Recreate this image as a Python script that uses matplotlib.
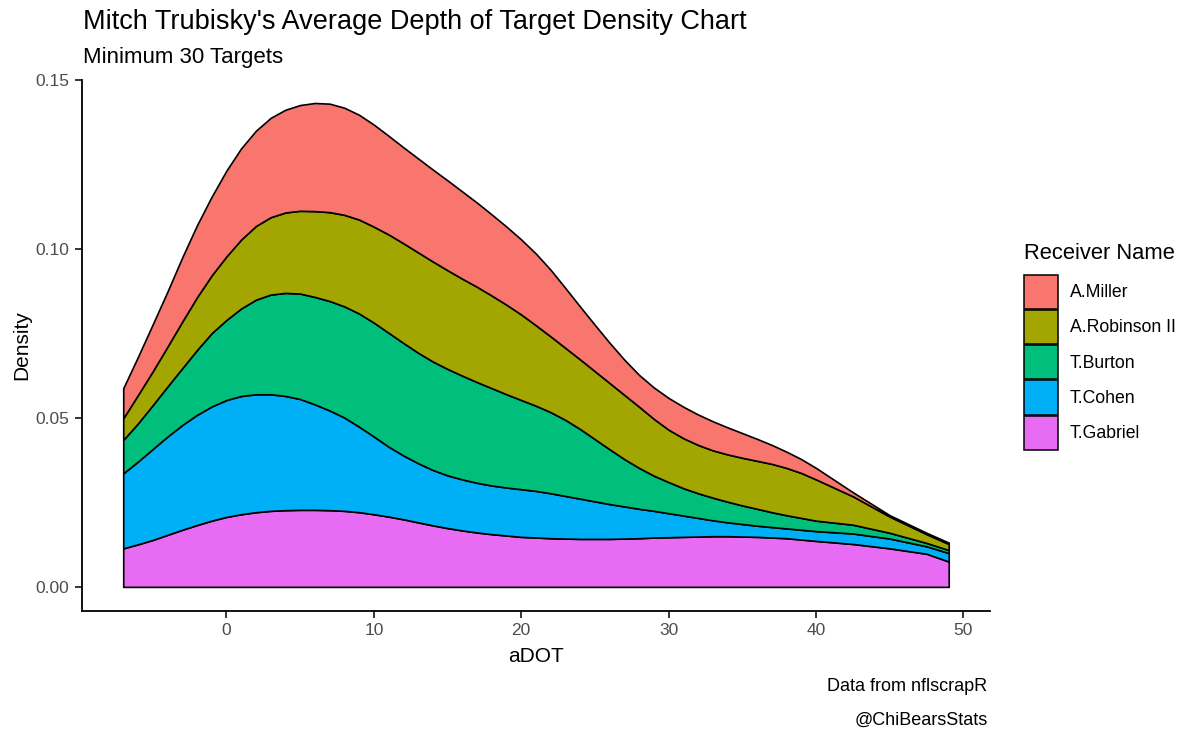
import numpy as np
import matplotlib
matplotlib.use("Agg")
import matplotlib.pyplot as plt
from matplotlib.patches import Patch

plt.rcParams['font.family'] = ['Liberation Sans', 'DejaVu Sans']

adot = [-7, -6, -5, -4, -3, -2, -1, 0, 1, 2, 3, 4, 5, 6, 7, 8, 9, 10,
        11, 12, 13, 14, 15, 16, 17, 18, 19, 20, 21, 22, 23, 24, 25, 26,
        27, 28, 29, 30, 31, 32, 33, 34, 35, 36, 37, 38, 39, 40,
        42.5, 45, 47.5, 49]

# top edge of each stacked band (stacked density), bottom band first
top_gabriel = [0.0114, 0.0126, 0.0139, 0.0154, 0.0169, 0.0183, 0.0196, 0.0207,
               0.0215, 0.0221, 0.0225, 0.0227, 0.0228, 0.0228, 0.0227, 0.0225,
               0.0221, 0.0215, 0.0208, 0.0200, 0.0191, 0.0182, 0.0174, 0.0167,
               0.0161, 0.0156, 0.0152, 0.0148, 0.0146, 0.0144, 0.0143, 0.0142,
               0.0142, 0.0142, 0.0143, 0.0144, 0.0146, 0.0147, 0.0148, 0.0149,
               0.0150, 0.0150, 0.0149, 0.0148, 0.0146, 0.0144, 0.0140, 0.0136,
               0.0127, 0.0114, 0.0098, 0.0075]
top_cohen = [0.0336, 0.0371, 0.0408, 0.0445, 0.0479, 0.0509, 0.0534, 0.0553,
             0.0565, 0.0570, 0.0570, 0.0565, 0.0556, 0.0540, 0.0522, 0.0501,
             0.0474, 0.0445, 0.0415, 0.0389, 0.0366, 0.0346, 0.0330, 0.0318,
             0.0308, 0.0300, 0.0294, 0.0289, 0.0284, 0.0277, 0.0269, 0.0261,
             0.0253, 0.0245, 0.0238, 0.0231, 0.0225, 0.0218, 0.0211, 0.0204,
             0.0197, 0.0191, 0.0186, 0.0181, 0.0177, 0.0173, 0.0169, 0.0165,
             0.0158, 0.0143, 0.0120, 0.0100]
top_burton = [0.0435, 0.0484, 0.0538, 0.0593, 0.0647, 0.0701, 0.0751, 0.0790,
              0.0824, 0.0850, 0.0865, 0.0870, 0.0868, 0.0858, 0.0846, 0.0830,
              0.0809, 0.0782, 0.0752, 0.0722, 0.0693, 0.0667, 0.0645, 0.0625,
              0.0606, 0.0588, 0.0570, 0.0553, 0.0536, 0.0517, 0.0494, 0.0467,
              0.0437, 0.0407, 0.0378, 0.0352, 0.0329, 0.0310, 0.0292, 0.0277,
              0.0264, 0.0252, 0.0241, 0.0231, 0.0221, 0.0212, 0.0204, 0.0196,
              0.0184, 0.0160, 0.0130, 0.0109]
top_robinson = [0.0499, 0.0568, 0.0638, 0.0711, 0.0785, 0.0857, 0.0922, 0.0978,
                0.1028, 0.1068, 0.1094, 0.1108, 0.1113, 0.1112, 0.1109, 0.1101,
                0.1087, 0.1066, 0.1043, 0.1017, 0.0990, 0.0963, 0.0937, 0.0912,
                0.0888, 0.0862, 0.0835, 0.0806, 0.0774, 0.0741, 0.0707, 0.0673,
                0.0638, 0.0603, 0.0568, 0.0533, 0.0497, 0.0465, 0.0440, 0.0420,
                0.0404, 0.0392, 0.0382, 0.0373, 0.0364, 0.0352, 0.0337, 0.0318,
                0.0268, 0.0208, 0.0156, 0.0127]
top_miller = [0.0588, 0.0681, 0.0777, 0.0874, 0.0975, 0.1070, 0.1155, 0.1232,
              0.1298, 0.1350, 0.1388, 0.1412, 0.1426, 0.1432, 0.1430, 0.1418,
              0.1397, 0.1368, 0.1335, 0.1301, 0.1268, 0.1235, 0.1203, 0.1170,
              0.1137, 0.1102, 0.1066, 0.1028, 0.0986, 0.0938, 0.0884, 0.0829,
              0.0775, 0.0722, 0.0672, 0.0627, 0.0590, 0.0559, 0.0533, 0.0510,
              0.0490, 0.0472, 0.0455, 0.0438, 0.0420, 0.0400, 0.0378, 0.0352,
              0.0280, 0.0212, 0.0160, 0.0131]

names = ['A.Miller', 'A.Robinson II', 'T.Burton', 'T.Cohen', 'T.Gabriel']
colors = ['#F8766D', '#A3A500', '#00BF7D', '#00B0F6', '#E76BF3']

y_ticks = [0.00, 0.05, 0.10, 0.15]
y_labels = ['0.00', '0.05', '0.10', '0.15']
x_ticks = [0, 10, 20, 30, 40, 50]

# band thickness = density of each receiver
tops = np.array([top_gabriel, top_cohen, top_burton, top_robinson, top_miller])
layers = np.diff(np.vstack([np.zeros(len(adot)), tops]), axis=0)

fig = plt.figure(figsize=(12, 7.45), dpi=100)
ax = fig.add_axes([0.0683, 0.1799, 0.7567, 0.7127])

ax.stackplot(adot, layers, colors=colors[::-1], edgecolor='black', linewidth=1.2)

ax.set_xlim(-9.8, 51.8)
ax.set_ylim(-0.00713, 0.1497)
ax.set_xticks(x_ticks)
ax.set_yticks(y_ticks)
ax.set_yticklabels(y_labels)

for s in ['top', 'right']:
    ax.spines[s].set_visible(False)
for s in ['left', 'bottom']:
    ax.spines[s].set_linewidth(1.3)
ax.tick_params(axis='both', length=5, width=1.1, labelsize=12.5,
               labelcolor='#4D4D4D', pad=4)

ax.set_xlabel('aDOT', fontsize=15, labelpad=6)
ax.set_ylabel('Density', fontsize=15, labelpad=3)

fig.text(0.069, 0.970, "Mitch Trubisky's Average Depth of Target Density Chart",
         fontsize=19.5, va='center', ha='left')
fig.text(0.069, 0.923, 'Minimum 30 Targets', fontsize=16, va='center', ha='left')

fig.text(0.823, 0.078, 'Data from nflscrapR', fontsize=13, ha='right', va='center')
fig.text(0.823, 0.033, '@ChiBearsStats', fontsize=13, ha='right', va='center')

# legend: title placed separately to get the ggplot gap above the keys
fig.text(0.853, 0.6604, 'Receiver Name', fontsize=15.8, ha='left', va='center')
handles = [Patch(facecolor=c, edgecolor='black', linewidth=1.1) for c in colors]
leg = fig.legend(handles, names, loc='upper left', bbox_to_anchor=(0.853, 0.631),
                 frameon=False, fontsize=12.7, handlelength=1.93, handleheight=2.6,
                 labelspacing=0.06, handletextpad=0.7, borderpad=0,
                 borderaxespad=0)

fig.savefig('out.png', dpi=100)
